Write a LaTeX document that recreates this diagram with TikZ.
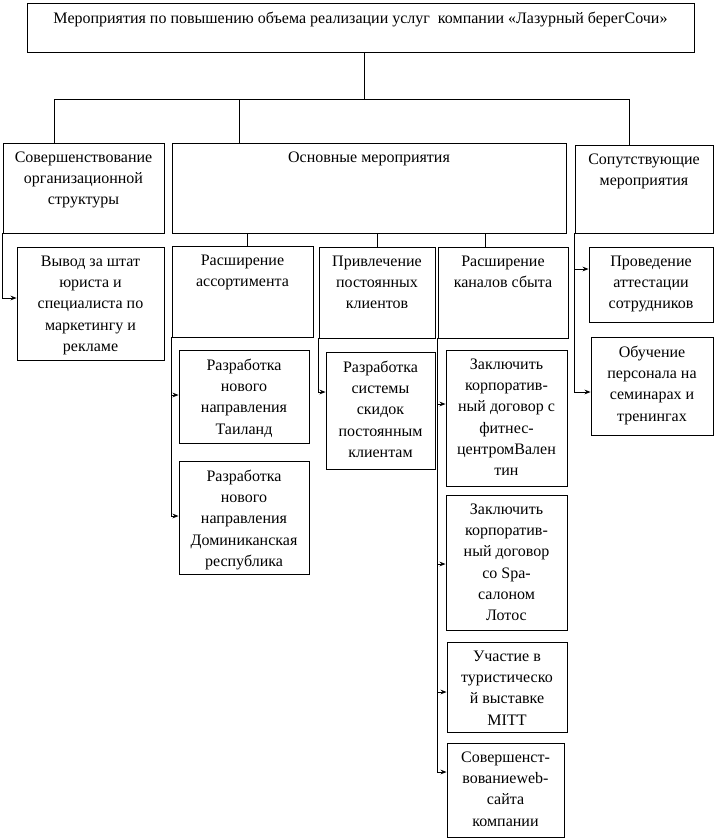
\documentclass[tikz,border=0pt]{standalone}
\usepackage{fontspec}
\setmainfont{Liberation Serif}
\usetikzlibrary{positioning,fit,arrows.meta}

\begin{document}
\begin{tikzpicture}[x=0.75pt, y=-0.75pt, line width=0.7pt,
  box/.style={draw, inner sep=0pt},
  txt/.style={align=center, inner sep=0pt, font=\fontsize{12}{16}\selectfont},
  arr/.style={-{Stealth[length=4.5pt,width=3.5pt]}}]
\useasboundingbox (0,0) rectangle (718,840);
% boxes
\node [box, fit={(27,3) (694,52)}] (top) {};
\node [txt, below=6.5pt of top.north] (top-t) {Мероприятия по повышению объема реализации услуг\ \ компании «Лазурный берегСочи»};
\node [box, fit={(3,143) (164,233)}] (A) {};
\node [txt, below=6.5pt of A.north] (A-t) {Совершенствование\\организационной\\структуры};
\node [box, fit={(172,143) (566,233)}] (B) {};
\node [txt, below=6.5pt of B.north] (B-t) {Основные мероприятия};
\node [box, fit={(575,145) (713,233)}] (C) {};
\node [txt, below=6.5pt of C.north] (C-t) {Сопутствующие\\мероприятия};
\node [box, fit={(17,247) (164,360)}] (A1) {};
\node [txt, below=6.5pt of A1.north] (A1-t) {Вывод за штат\\юриста и\\специалиста по\\маркетингу и\\рекламе};
\node [box, fit={(172,246) (313,337)}] (B1) {};
\node [txt, below=6.5pt of B1.north] (B1-t) {Расширение\\ассортимента};
\node [box, fit={(319,247) (435,338)}] (B2) {};
\node [txt, below=6.5pt of B2.north] (B2-t) {Привлечение\\постоянных\\клиентов};
\node [box, fit={(438,247) (568,338)}] (B3) {};
\node [txt, below=6.5pt of B3.north] (B3-t) {Расширение\\каналов сбыта};
\node [box, fit={(179,350) (309,443)}] (B1a) {};
\node [txt, below=6.5pt of B1a.north] (B1a-t) {Разработка\\нового\\направления\\Таиланд};
\node [box, fit={(179,461) (309,574)}] (B1b) {};
\node [txt, below=6.5pt of B1b.north] (B1b-t) {Разработка\\нового\\направления\\Доминиканская\\республика};
\node [box, fit={(326,352) (435,469)}] (B2a) {};
\node [txt, below=6.5pt of B2a.north] (B2a-t) {Разработка\\системы\\скидок\\постоянным\\клиентам};
\node [box, fit={(446,350) (567,486)}] (B3a) {};
\node [txt, below=6.5pt of B3a.north] (B3a-t) {Заключить\\корпоратив-\\ный договор с\\фитнес-\\центромВален\\тин};
\node [box, fit={(446,495) (567,630)}] (B3b) {};
\node [txt, below=6.5pt of B3b.north] (B3b-t) {Заключить\\корпоратив-\\ный договор\\со Spa-\\салоном\\Лотос};
\node [box, fit={(447,642) (567,732)}] (B3c) {};
\node [txt, below=6.5pt of B3c.north] (B3c-t) {Участие в\\туристическо\\й выставке\\MITT};
\node [box, fit={(447,743) (564,837)}] (B3d) {};
\node [txt, below=6.5pt of B3d.north] (B3d-t) {Совершенст-\\вованиеweb-\\сайта\\компании};
\node [box, fit={(589,247) (713,322)}] (C1) {};
\node [txt, below=6.5pt of C1.north] (C1-t) {Проведение\\аттестации\\сотрудников};
\node [box, fit={(591,337) (713,435)}] (C2) {};
\node [txt, below=6.5pt of C2.north] (C2-t) {Обучение\\персонала на\\семинарах и\\тренингах};
% top level lines
\coordinate (hub) at (364,99);
\coordinate (ha) at (54,99);
\coordinate (hb) at (239,99);
\coordinate (hc) at (629,99);
\draw (top.south -| hub) -- (hub);
\draw (ha) -- (hc);
\draw (ha) -- (ha |- A.north);
\draw (hb) -- (hb |- B.north);
\draw (hc) -- (hc |- C.north);
\draw (B.south -| 247,0) -- (B1.north -| 247,0);
\draw (B.south -| 377,0) -- (B2.north -| 377,0);
\draw (B.south -| 485,0) -- (B3.north -| 485,0);
% arrows
\draw [arr] (A.south west) |- (A1.west |- 0,298);
\draw [arr] (B1.south west) |- (B1b.west |- 0,516);
\draw [arr] (B1.south west |- 0,395) -- (B1a.west |- 0,395);
\draw [arr] (B2.south west) |- (B2a.west |- 0,392);
\draw [arr] (B3.south west) |- (B3d.west |- 0,772);
\draw [arr] (B3.south west |- 0,404) -- (B3a.west |- 0,404);
\draw [arr] (B3.south west |- 0,564) -- (B3b.west |- 0,564);
\draw [arr] (B3.south west |- 0,692) -- (B3c.west |- 0,692);
\draw [arr] (C.south west) |- (C2.west |- 0,392);
\draw [arr] (C.south west |- 0,269) -- (C1.west |- 0,269);
\end{tikzpicture}
\end{document}
